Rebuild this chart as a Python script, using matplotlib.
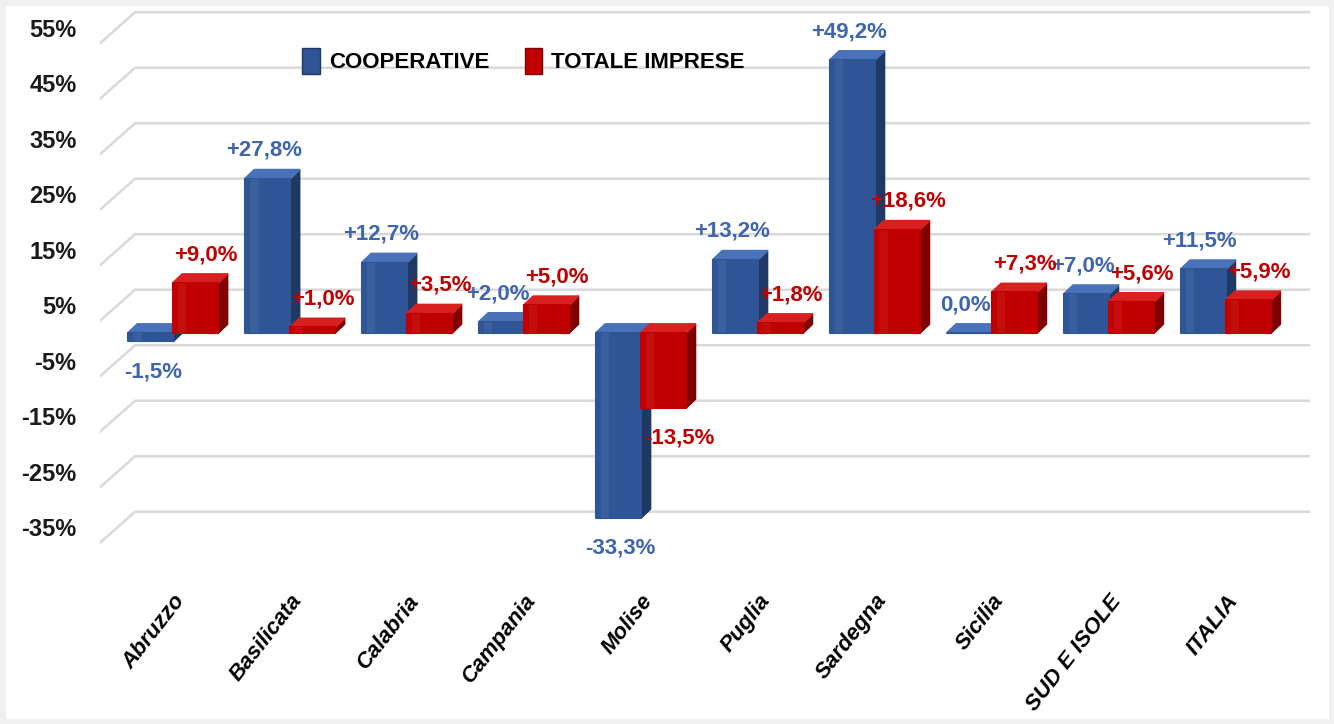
import matplotlib
matplotlib.use("Agg")
import matplotlib.pyplot as plt
from matplotlib.patches import Polygon, Patch, Rectangle
from matplotlib.transforms import ScaledTranslation

regioni = ["Abruzzo", "Basilicata", "Calabria", "Campania", "Molise",
           "Puglia", "Sardegna", "Sicilia", "SUD E ISOLE", "ITALIA"]
cooperative = [-1.5, 27.8, 12.7, 2.0, -33.3, 13.2, 49.2, 0.0, 7.0, 11.5]
totale_imprese = [9.0, 1.0, 3.5, 5.0, -13.5, 1.8, 18.6, 7.3, 5.6, 5.9]
yticks = [-35, -25, -15, -5, 5, 15, 25, 35, 45, 55]
ytick_labels = ["-35%", "-25%", "-15%", "-5%", "5%", "15%", "25%", "35%", "45%", "55%"]


def etichetta(v):
    s = "{:.1f}%".format(v).replace(".", ",")
    return "+" + s if v > 0 else s


plt.rcParams["font.family"] = ["Liberation Sans", "DejaVu Sans"]

W, H, DPI = 1334, 724, 100
fig = plt.figure(figsize=(W / DPI, H / DPI), dpi=DPI)
fig.patches.append(Rectangle((0, 0), 1, 1, transform=fig.transFigure, fill=False,
                             edgecolor="#F0F0F0", lw=8))
ax = fig.add_axes([100 / W, 1 - 560 / H, 1210 / W, 560 / H])
ax.set_xlim(-0.624, 9.72)
ax.set_ylim(-40.9, 60)

# finte griglie 3D (piano di fondo + raccordo diagonale)
gx, gy = 0.30, 2.8
for v in yticks:
    ax.plot([-0.624, -0.624 + gx, 9.72], [v - gy, v + gy, v + gy],
            color="#D9D9D9", lw=1.8, zorder=0, solid_capstyle="round")

width = 0.385
dx, dy = 0.08, 1.6
serie = [
    (cooperative, -0.192, "#2F5597", "#1F3864", "#4A72B8", "#3F66AD", -0.03),
    (totale_imprese, 0.192, "#C00000", "#7F0000", "#D82020", "#C00000", 0.09),
]

for k, (vals, off, col, side_col, top_col, txt_col, toff) in enumerate(serie):
    xs = [i + off for i in range(len(vals))]
    z = 2 + k * 0.5
    ax.bar(xs, vals, width=width, color=col, edgecolor=col, lw=1.5, zorder=z + 0.2,
           joinstyle="round")
    for x, v in zip(xs, vals):
        x0, x1 = x - width / 2, x + width / 2
        top, bot = max(v, 0), min(v, 0)
        ax.add_patch(Polygon([(x1, bot), (x1, top), (x1 + dx, top + dy), (x1 + dx, bot + dy)],
                             closed=True, facecolor=side_col, edgecolor=side_col, lw=1.5,
                             joinstyle="round", zorder=z))
        ax.add_patch(Polygon([(x0, top), (x1, top), (x1 + dx, top + dy), (x0 + dx, top + dy)],
                             closed=True, facecolor=top_col, edgecolor=top_col, lw=1.5,
                             joinstyle="round", zorder=z + 0.1))
        # riflesso sul fronte
        ax.add_patch(Rectangle((x0 + width * 0.12, bot), width * 0.18, top - bot,
                               facecolor="white", alpha=0.06, lw=0, zorder=z + 0.3))
        if v >= 0:
            ax.text(x + toff, v + dy + 3.5, etichetta(v), ha="center", va="center",
                    fontsize=16, fontweight="bold", color=txt_col, zorder=5)
        else:
            ax.text(x + toff + 0.05, v - 5.5, etichetta(v), ha="center", va="center",
                    fontsize=16, fontweight="bold", color=txt_col, zorder=5)

ax.set_yticks(yticks)
ax.set_yticklabels(ytick_labels, fontsize=17, fontweight="bold", color="#1A1A1A")
for lab in ax.get_yticklabels():
    lab.set_transform(lab.get_transform() + ScaledTranslation(0, -0.155, fig.dpi_scale_trans))
ax.set_xticks(range(len(regioni)))
ax.set_xticklabels(regioni, rotation=52, ha="right", va="top", rotation_mode="anchor",
                   fontsize=16, fontweight="bold", fontstyle="italic", color="black")
ax.tick_params(axis="y", length=0, pad=17)
ax.tick_params(axis="x", length=0, pad=22)
for s in ax.spines.values():
    s.set_visible(False)

handles = [Patch(facecolor="#2F5597", edgecolor="#1F3864"),
           Patch(facecolor="#C00000", edgecolor="#7F0000")]
fig.legend(handles, ["COOPERATIVE", "TOTALE IMPRESE"], loc="upper left",
           bbox_to_anchor=(282 / W, 1 - 28 / H), ncol=2, frameon=False,
           prop={"weight": "bold", "size": 16}, handlelength=0.8, handleheight=1.4,
           handletextpad=0.4, columnspacing=1.6)

fig.savefig("out.png", dpi=DPI, facecolor="white")
